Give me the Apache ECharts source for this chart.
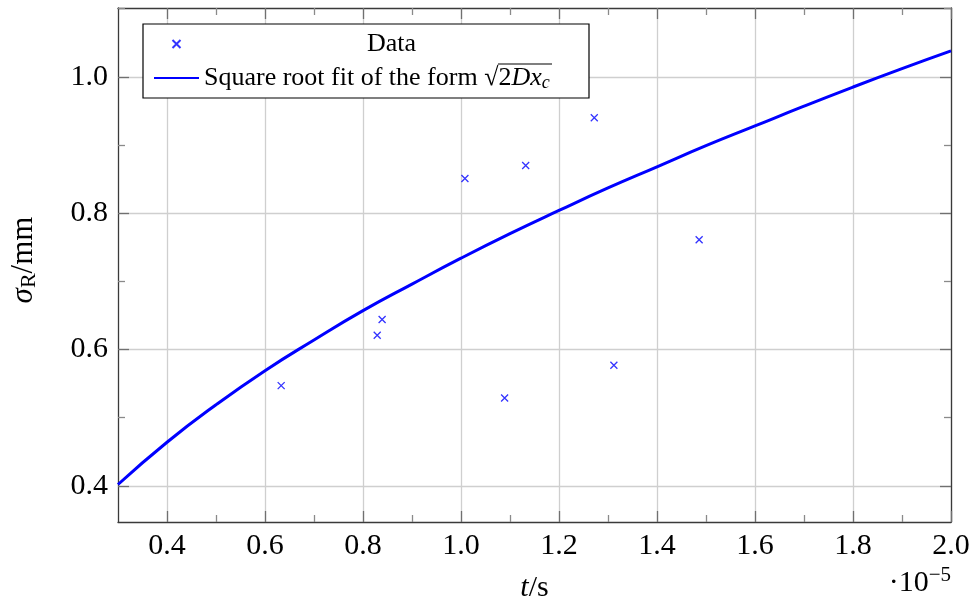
<!DOCTYPE html>
<html>
<head>
<meta charset="utf-8">
<script src="https://cdn.jsdelivr.net/npm/echarts@6/dist/echarts.min.js"></script>
<style>html,body{margin:0;padding:0;background:#fff}#c{width:971px;height:601px}</style>
</head>
<body>
<div id="c"></div>
<script>
// Data (t in units of 1e-5 s, sigma_R in mm)
const dataT = [0.633, 0.829, 0.839, 1.008, 1.089, 1.132, 1.272, 1.312, 1.486];
const dataSigma = [0.547, 0.621, 0.644, 0.851, 0.529, 0.870, 0.940, 0.577, 0.761];
// Fit curve
const fitT = [0.3, 0.4, 0.5, 0.6, 0.7, 0.8, 0.9, 1.0, 1.1, 1.2, 1.3, 1.4, 1.5, 1.6, 1.7, 1.8, 1.9, 2.0];
const fitSigma = [0.402, 0.464, 0.519, 0.569, 0.614, 0.657, 0.696, 0.734, 0.770, 0.804, 0.837, 0.868, 0.899, 0.928, 0.957, 0.985, 1.012, 1.038];
// Tick values
const xMajorTicks = [0.4, 0.6, 0.8, 1.0, 1.2, 1.4, 1.6, 1.8, 2.0];
const xMinorTicks = [0.5, 0.7, 0.9, 1.1, 1.3, 1.5, 1.7, 1.9];
const yMajorTicks = [0.4, 0.6, 0.8, 1.0];
const yMinorTicks = [0.5, 0.7, 0.9, 1.1];

const FONT = 'Liberation Serif';
const xMin = 0.3, xMax = 2.0, yMin = 0.347, yMax = 1.101;
const blue = '#0000ff';

function xAx(pos, ticks, len, col, main) {
  return {
    type: 'value', position: pos, min: xMin, max: xMax,
    axisLine: { show: main, onZero: false, lineStyle: { color: '#3a3a3a', width: 1.3 } },
    axisTick: { show: true, inside: true, length: len, customValues: ticks, lineStyle: { color: col, width: 1.3 } },
    axisLabel: pos === 'bottom' && main ? {
      show: true, customValues: xMajorTicks, margin: 9,
      formatter: v => Number(v).toFixed(1),
      fontFamily: FONT, fontSize: 30, color: '#000'
    } : { show: false },
    splitLine: { show: pos === 'bottom' && main, lineStyle: { color: '#cfcfcf', width: 1.3 } },
    name: pos === 'bottom' && main ? '{i|t}/s' : '',
    nameLocation: 'middle', nameGap: 51,
    nameTextStyle: { fontFamily: FONT, fontSize: 30, color: '#000', rich: { i: { fontFamily: FONT, fontStyle: 'italic', fontSize: 30 } } }
  };
}
function yAx(pos, ticks, len, col, main) {
  return {
    type: 'value', position: pos, min: yMin, max: yMax,
    axisLine: { show: main, onZero: false, lineStyle: { color: '#3a3a3a', width: 1.3 } },
    axisTick: { show: true, inside: true, length: len, customValues: ticks, lineStyle: { color: col, width: 1.3 } },
    axisLabel: pos === 'left' && main ? {
      show: true, customValues: yMajorTicks, margin: 10,
      formatter: v => Number(v).toFixed(1),
      fontFamily: FONT, fontSize: 30, color: '#000'
    } : { show: false },
    splitLine: { show: pos === 'left' && main, lineStyle: { color: '#cfcfcf', width: 1.3 } },
    name: pos === 'left' && main ? '{i|σ}{s|R}/mm' : '',
    nameLocation: 'middle', nameGap: 78, nameRotate: 90,
    nameTextStyle: { fontFamily: FONT, fontSize: 31, color: '#000', padding: [0, 0, 0, 10],
      rich: { i: { fontFamily: FONT, fontStyle: 'italic', fontSize: 31 }, s: { fontFamily: FONT, fontSize: 22, padding: [11, 0, 0, 0] } } }
  };
}

const chart = echarts.init(document.getElementById('c'), null, { renderer: 'canvas' });
chart.setOption({
  animation: false,
  backgroundColor: '#fff',
  grid: { left: 118, right: 20, top: 8, bottom: 79, containLabel: false, outerBoundsMode: 'none' },
  xAxis: [
    xAx('bottom', xMajorTicks, 11, '#707070', true),
    xAx('bottom', xMinorTicks, 7, '#8a8a8a', false),
    xAx('top', xMajorTicks, 11, '#707070', true),
    xAx('top', xMinorTicks, 7, '#8a8a8a', false)
  ],
  yAxis: [
    yAx('left', yMajorTicks, 11, '#707070', true),
    yAx('left', yMinorTicks, 7, '#8a8a8a', false),
    yAx('right', yMajorTicks, 11, '#707070', true),
    yAx('right', yMinorTicks, 7, '#8a8a8a', false)
  ],
  legend: {
    orient: 'vertical', left: 143, top: 24,
    padding: [6, 10, 6, 10], itemGap: 6,
    itemWidth: 45, itemHeight: 8,
    backgroundColor: '#fff', borderColor: '#000', borderWidth: 1.2,
    data: ['Data', { name: 'fit', itemStyle: { opacity: 0 } }],
    formatter: name => name === 'Data' ? '{c|Data}' : '{n|Square root fit of the form }{r|√}{m|2}{mi|Dx}{s|c}',
    textStyle: {
      fontFamily: FONT, fontSize: 26, color: '#000', lineHeight: 28,
      rich: {
        c: { width: 375, align: 'center', fontFamily: FONT, fontSize: 26, lineHeight: 28 },
        n: { fontFamily: FONT, fontSize: 26, lineHeight: 28 },
        r: { fontFamily: FONT, fontSize: 26, lineHeight: 28 },
        m: { fontFamily: FONT, fontSize: 26, lineHeight: 28 },
        mi: { fontFamily: FONT, fontStyle: 'italic', fontSize: 26, lineHeight: 28 },
        s: { fontFamily: FONT, fontStyle: 'italic', fontSize: 18, lineHeight: 28, padding: [10, 0, 0, 0] }
      }
    }
  },
  series: [
    {
      name: 'Data', type: 'scatter', xAxisIndex: 0, yAxisIndex: 0,
      data: dataT.map((t, i) => [t, dataSigma[i]]),
      symbol: 'path://M0,0L10,10M10,0L0,10', symbolSize: 7, symbolKeepAspect: true,
      itemStyle: { color: 'rgba(0,0,0,0)', borderColor: blue, borderWidth: 1.3 },
      z: 5
    },
    {
      name: 'fit', type: 'line', xAxisIndex: 0, yAxisIndex: 0,
      data: fitT.map((t, i) => [t, fitSigma[i]]),
      smooth: true, showSymbol: false, symbol: 'none',
      lineStyle: { color: blue, width: 3 }, itemStyle: { color: blue },
      z: 4
    }
  ],
  graphic: [
    {
      type: 'text', right: 20, top: 565,
      style: {
        text: '·10{s|−5}', fontFamily: FONT, fontSize: 30, fill: '#000',
        rich: { s: { fontFamily: FONT, fontSize: 21, padding: [0, 0, 15, 0] } }
      }
    },
    {
      type: 'line', z: 100,
      shape: { x1: 498, y1: 64, x2: 552, y2: 64 },
      style: { stroke: '#000', lineWidth: 1.1 }
    }
  ]
});
</script>
</body>
</html>
